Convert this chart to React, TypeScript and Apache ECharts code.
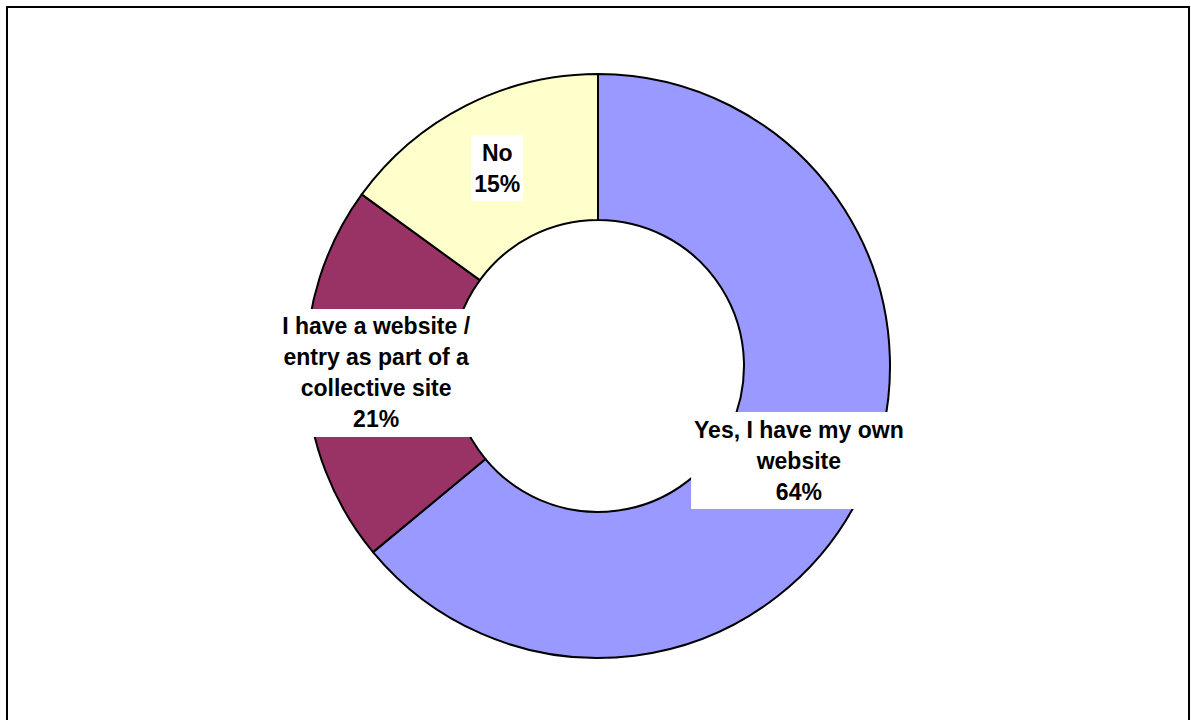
import React, { useEffect, useRef } from "react";
import * as echarts from "echarts";

const categories = [
  "Yes, I have my own\nwebsite",
  "I have a website /\nentry as part of a\ncollective site",
  "No",
];
const values = [64, 21, 15];
const colors = ["#9999FF", "#993366", "#FFFFCC"];

export default function App() {
  const ref = useRef<HTMLDivElement>(null);
  useEffect(() => {
    if (!ref.current) return;
    const chart = echarts.init(ref.current, null, { renderer: "svg" });
    chart.setOption({
      animation: false,
      backgroundColor: "#ffffff",
      graphic: [
        {
          type: "rect",
          shape: { x: 7, y: 7, width: 1182, height: 800 },
          style: { fill: "none", stroke: "#000", lineWidth: 2 },
          silent: true,
        },
      ],
      series: [
        {
          type: "pie",
          center: [598, 366],
          radius: [146, 292],
          startAngle: 90,
          clockwise: true,
          avoidLabelOverlap: false,
          itemStyle: { borderColor: "#000", borderWidth: 2 },
          label: {
            show: true,
            position: "inside",
            formatter: (p: any) => `${p.name}\n${Math.round(p.percent)}%`,
            color: "#000",
            fontFamily: "Liberation Sans, Arial, sans-serif",
            fontWeight: "bold",
            fontSize: 23,
            lineHeight: 31,
            backgroundColor: "#fff",
            padding: [2, 3, 2, 3],
            align: "center",
          },
          labelLine: { show: false },
          emphasis: { disabled: true },
          data: categories.map((c, i) => ({
            name: c,
            value: values[i],
            itemStyle: { color: colors[i] },
          })),
        },
      ],
    });
    return () => chart.dispose();
  }, []);
  return (
    <div
      ref={ref}
      style={{ position: "fixed", left: 0, top: 0, width: 1191, height: 720 }}
    />
  );
}
